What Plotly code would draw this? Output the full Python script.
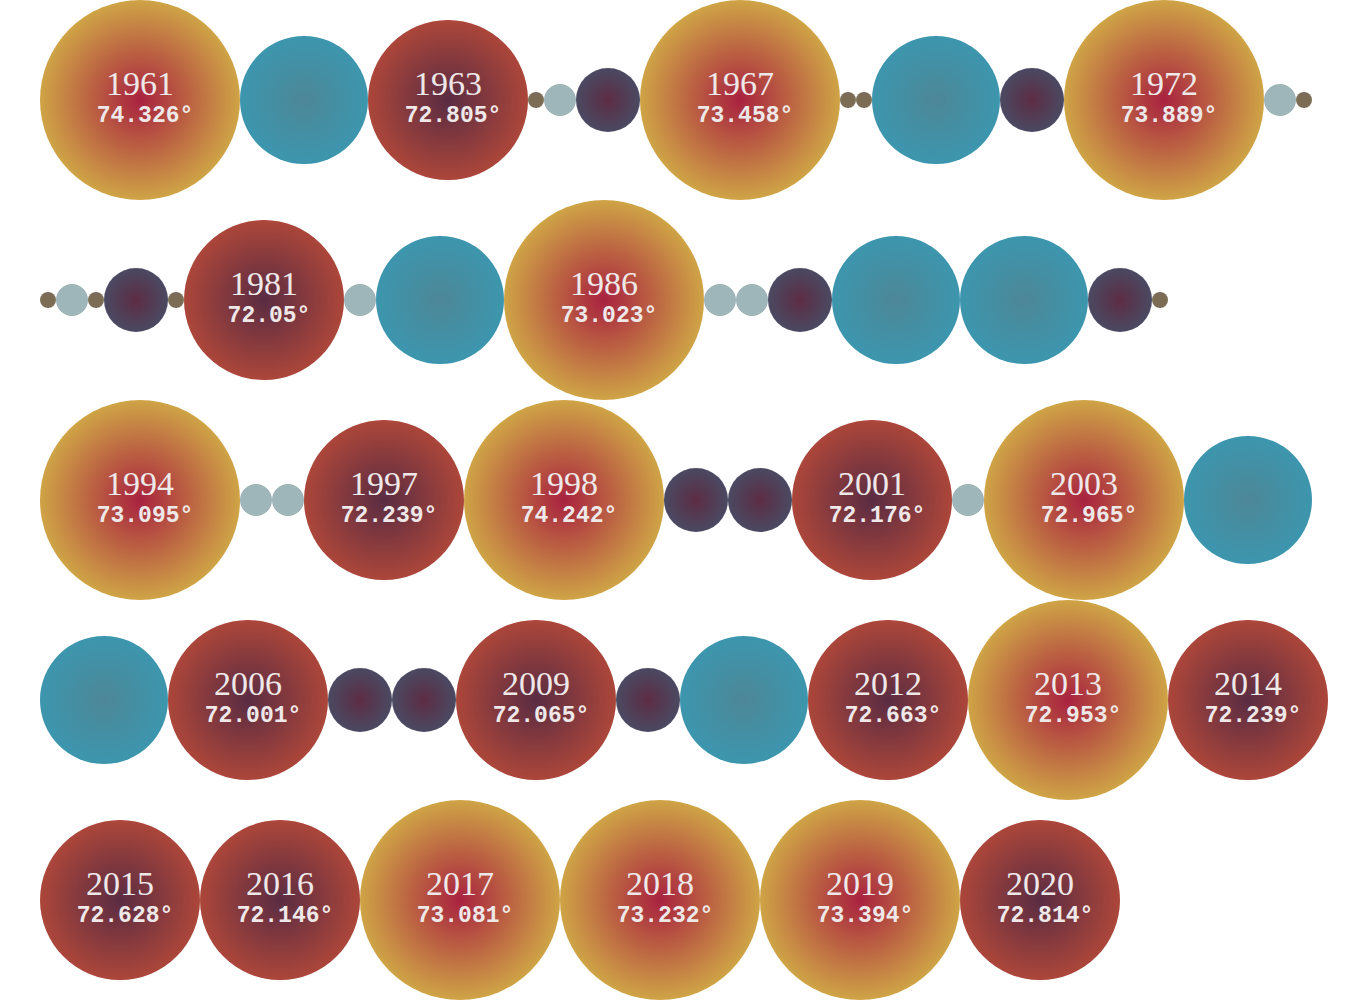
import plotly.graph_objects as go

# ---- data ----
years = [1961, 1962, 1963, 1964, 1965, 1966, 1967, 1968, 1969, 1970, 1971, 1972, 1973, 1974,
         1975, 1976, 1977, 1978, 1979, 1981, 1982, 1983, 1986, 1987, 1988, 1989, 1990, 1991, 1992, 1993,
         1994, 1995, 1996, 1997, 1998, 1999, 2000, 2001, 2002, 2003, 2004,
         2005, 2006, 2007, 2008, 2009, 2010, 2011, 2012, 2013, 2014,
         2015, 2016, 2017, 2018, 2019, 2020]
bands = ["hot", "cool", "warm", "frigid", "cold", "chilly", "hot", "frigid", "frigid", "cool", "chilly", "hot", "cold", "frigid",
         "frigid", "cold", "frigid", "chilly", "frigid", "warm", "cold", "cool", "hot", "cold", "cold", "chilly", "cool", "cool", "chilly", "frigid",
         "hot", "cold", "cold", "warm", "hot", "chilly", "chilly", "warm", "cold", "hot", "cool",
         "cool", "warm", "chilly", "chilly", "warm", "chilly", "cool", "warm", "hot", "warm",
         "warm", "warm", "hot", "hot", "hot", "warm"]
temps = {1961: "74.326", 1963: "72.805", 1967: "73.458", 1972: "73.889",
         1981: "72.05", 1986: "73.023",
         1994: "73.095", 1997: "72.239", 1998: "74.242", 2001: "72.176", 2003: "72.965",
         2006: "72.001", 2009: "72.065", 2012: "72.663", 2013: "72.953", 2014: "72.239",
         2015: "72.628", 2016: "72.146", 2017: "73.081", 2018: "73.232", 2019: "73.394", 2020: "72.814"}
row_starts = [1961, 1975, 1994, 2005, 2015]

# ---- styles ----
style = {
    "hot":    dict(d=200, outer="#CFA446", center="#A8223F"),
    "warm":   dict(d=160, outer="#AC463A", center="#5A2C42"),
    "cool":   dict(d=128, outer="#3C96AE", center="#4D8797"),
    "chilly": dict(d=64,  outer="#4A4A62", center="#5C2C44"),
    "cold":   dict(d=32,  outer="#9EB5BA", center="#9EB5BA"),
    "frigid": dict(d=16,  outer="#7D6C54", center="#7D6C54"),
}

W, H = 1350, 1000
X0, ROW_H = 40, 200

xs, ys = [], []
row = -1
x = X0
for yr, b in zip(years, bands):
    d = style[b]["d"]
    if yr in row_starts:
        row += 1
        x = X0
    xs.append(x + d / 2)
    ys.append(ROW_H * row + ROW_H / 2)
    x += d

fig = go.Figure()
fig.add_trace(go.Scatter(
    x=xs, y=ys, mode="markers",
    marker=dict(
        size=[style[b]["d"] for b in bands],
        sizemode="diameter",
        color=[style[b]["outer"] for b in bands],
        gradient=dict(type="radial", color=[style[b]["center"] for b in bands]),
        line=dict(width=0),
        opacity=1,
    ),
    hoverinfo="skip",
))

lx = [xs[i] for i, yr in enumerate(years) if yr in temps]
ly = [ys[i] for i, yr in enumerate(years) if yr in temps]
lyr = [str(yr) for yr in years if yr in temps]
ltp = [temps[yr] + "°" for yr in years if yr in temps]

fig.add_trace(go.Scatter(
    x=lx, y=[v - 14 for v in ly], mode="text", text=lyr,
    textposition="middle center",
    textfont=dict(family="Liberation Serif, serif", size=34, color="#EEE8E8"),
    hoverinfo="skip",
))
fig.add_trace(go.Scatter(
    x=[v + 5 for v in lx], y=[v + 16 for v in ly], mode="text", text=ltp,
    textposition="middle center",
    textfont=dict(family="Liberation Mono, monospace", size=23, color="#EEE8E8", weight="bold"),
    hoverinfo="skip",
))

fig.update_layout(
    width=W, height=H, autosize=False,
    margin=dict(l=0, r=0, t=0, b=0, pad=0),
    paper_bgcolor="white", plot_bgcolor="white",
    showlegend=False,
    xaxis=dict(range=[0, W], visible=False, fixedrange=True),
    yaxis=dict(range=[H, 0], visible=False, fixedrange=True),
)
fig.write_html("out.html", config={"displayModeBar": False})
